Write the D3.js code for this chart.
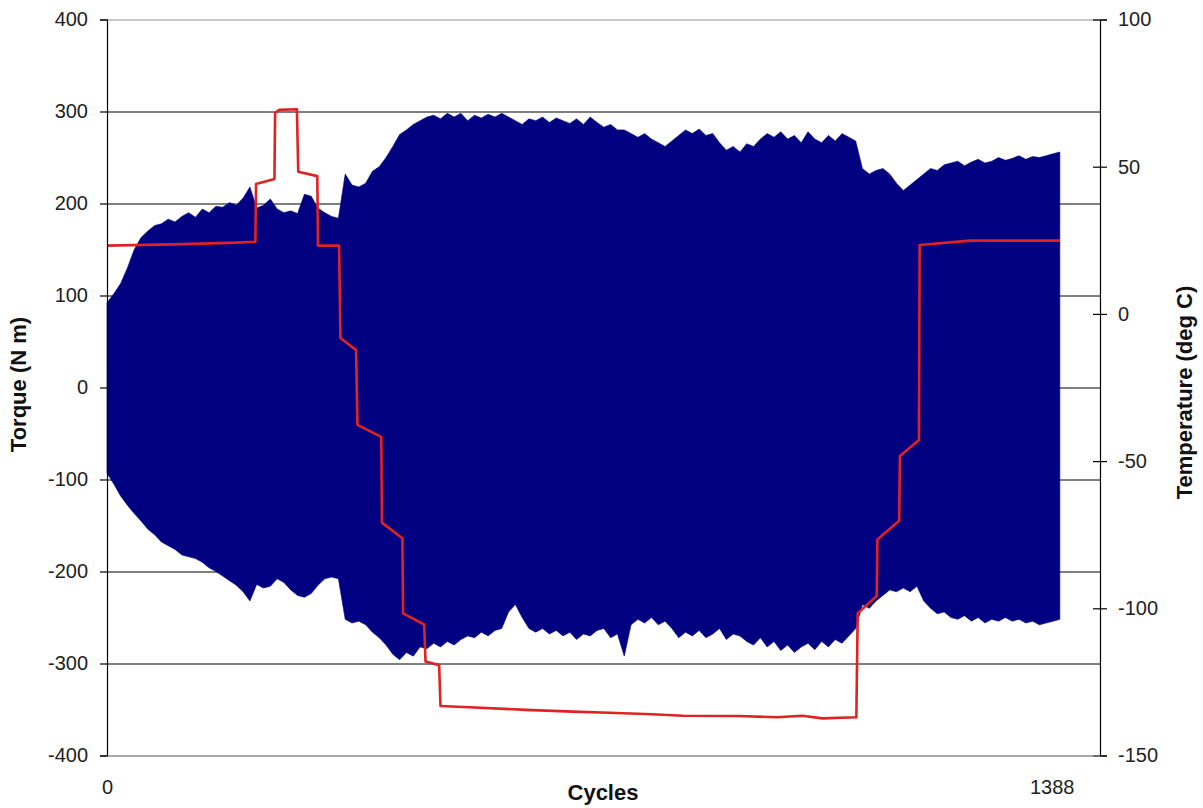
<!DOCTYPE html>
<html>
<head>
<meta charset="utf-8">
<script src="https://cdn.jsdelivr.net/npm/d3@7/dist/d3.min.js"></script>
<style>
  html, body { margin: 0; padding: 0; background: #fff; }
  svg { display: block; font-family: "Liberation Sans", Arial, sans-serif; }
</style>
</head>
<body>
<svg id="chart" width="1203" height="808"></svg>
<script>
// Torque envelope sampled every 10 cycles (peak and trough, N m)
const cycleStep = 10;
const torqueMax = [
  92, 102, 113, 130, 150, 163, 170, 176, 178, 183,
  180, 186, 190, 185, 194, 190, 197, 196, 201, 198,
  206, 218, 195, 198, 205, 194, 190, 192, 189, 210,
  208, 195, 190, 186, 184, 232, 220, 218, 222, 235,
  240, 250, 262, 275, 280, 286, 290, 294, 296, 292,
  298, 294, 298, 290, 296, 293, 297, 294, 298, 294,
  290, 286, 292, 290, 294, 288, 293, 290, 287, 292,
  286, 294, 288, 283, 286, 280, 280, 276, 272, 276,
  270, 266, 262, 268, 274, 280, 276, 281, 274, 276,
  266, 258, 262, 256, 265, 262, 270, 276, 272, 278,
  270, 274, 266, 278, 270, 266, 274, 268, 276, 272,
  268, 238, 232, 236, 238, 232, 222, 214, 220, 226,
  232, 238, 236, 242, 244, 246, 241, 245, 248, 244,
  246, 250, 247, 249, 252, 248, 251, 250, 252, 254,
  256
];
const torqueMin = [
  -93, -105, -118, -128, -137, -145, -154, -160, -168, -172,
  -176, -182, -184, -186, -190, -196, -200, -205, -210, -215,
  -222, -232, -214, -218, -216, -208, -212, -220, -226, -228,
  -224, -215, -208, -206, -208, -252, -256, -254, -258, -266,
  -272, -280, -290, -296, -288, -292, -282, -284, -278, -282,
  -276, -280, -274, -270, -272, -266, -270, -264, -262, -244,
  -236, -250, -262, -266, -262, -268, -264, -270, -266, -274,
  -268, -270, -264, -262, -272, -268, -292, -258, -252, -256,
  -250, -258, -254, -262, -272, -266, -270, -264, -272, -268,
  -262, -274, -268, -270, -276, -280, -272, -282, -276, -286,
  -280, -288, -282, -278, -285, -276, -282, -274, -278, -270,
  -262, -236, -240, -232, -226, -220, -222, -218, -222, -216,
  -232, -240, -246, -244, -250, -252, -248, -254, -250, -256,
  -252, -254, -250, -254, -252, -256, -254, -258, -256, -254,
  -252
];

// Chamber temperature (deg C) against cycle count
const tempCycles = [
  0, 113, 190, 218, 219, 246, 247, 253, 279, 281,
  309, 310, 341, 343, 366, 368, 403, 404, 434, 435,
  466, 468, 488, 490, 532, 616, 684, 738, 801, 846,
  929, 984, 1022, 1051, 1101, 1103, 1131, 1132, 1164, 1165,
  1193, 1194, 1268, 1400
];
const tempValues = [
  23.2, 23.7, 24.2, 24.5, 44.1, 45.8, 68.3, 69.3, 69.5, 48.3,
  46.8, 23.2, 23.2, -8.2, -12.3, -37.7, -41.8, -70.9, -76.2, -101.7,
  -105.5, -118.1, -119.3, -133.2, -133.6, -134.5, -135.1, -135.5, -136.0, -136.5,
  -136.6, -137.0, -136.5, -137.4, -137.0, -101.7, -95.8, -76.6, -70.3, -48.3,
  -42.8, 23.4, 24.9, 24.9
];

const torqueTicks = [400, 300, 200, 100, 0, -100, -200, -300, -400];
const tempTicks = [100, 50, 0, -50, -100, -150];
const cycleTicks = [0, 1388];

const svg = d3.select("#chart");
const plotLeft = 107, plotRight = 1100, plotTop = 19.5, plotBottom = 755.5;
const plain = d => String(d);   // ASCII hyphen for negatives

const x = d3.scaleLinear().domain([0, 1459]).range([plotLeft, plotRight]);
const yL = d3.scaleLinear().domain([-400, 400]).range([plotBottom, plotTop]);
const yR = d3.scaleLinear().domain([-150, 100]).range([plotBottom, plotTop]);

// Horizontal gridlines
const grid = svg.append("g").attr("transform", `translate(${plotLeft},0)`)
  .call(d3.axisLeft(yL).tickValues(torqueTicks).tickSize(-(plotRight - plotLeft)).tickFormat(""));
grid.select(".domain").remove();
grid.selectAll(".tick line")
  .attr("stroke", d => (d === 400 || d === -400) ? "#8c8c8c" : "#000")
  .attr("stroke-width", 1);

// Torque trace
const torqueData = torqueMax.map((v, i) => ({ c: i * cycleStep, hi: v, lo: torqueMin[i] }));
svg.append("path")
  .datum(torqueData)
  .attr("fill", "#000080")
  .attr("stroke", "#000080")
  .attr("stroke-width", 0.6)
  .attr("d", d3.area().x(d => x(d.c)).y0(d => yL(d.lo)).y1(d => yL(d.hi)));

// Temperature trace
const tempData = tempCycles.map((c, i) => ({ c, t: tempValues[i] }));
svg.append("path")
  .datum(tempData)
  .attr("fill", "none")
  .attr("stroke", "#e02222")
  .attr("stroke-width", 2.6)
  .attr("stroke-linejoin", "round")
  .attr("d", d3.line().x(d => x(d.c)).y(d => yR(d.t)));

// Left axis
const axL = svg.append("g").attr("transform", `translate(${plotLeft},0)`)
  .call(d3.axisLeft(yL).tickValues(torqueTicks).tickFormat(plain).tickSize(7).tickPadding(12));
// Right axis
const axR = svg.append("g").attr("transform", `translate(${plotRight},0)`)
  .call(d3.axisRight(yR).tickValues(tempTicks).tickFormat(plain).tickSize(7).tickPadding(11));
axR.selectAll(".tick line").attr("x1", -7);
// Bottom axis
const axB = svg.append("g").attr("transform", `translate(0,${plotBottom})`)
  .call(d3.axisBottom(x).tickValues(cycleTicks).tickFormat(plain).tickSize(0).tickPadding(24));
axB.select(".domain").attr("stroke", "#8c8c8c");

[axL, axR].forEach(a => {
  a.select(".domain").attr("stroke", "#000").attr("stroke-width", 1.2);
  a.selectAll(".tick line").attr("stroke", "#000").attr("stroke-width", 1.2);
});
[axL, axR, axB].forEach(a => {
  a.selectAll(".tick text")
    .attr("fill", "#222")
    .style("font-size", "20px")
    .style("font-family", "'Liberation Sans', Arial, sans-serif");
});

// Axis titles
svg.append("text")
  .attr("transform", `translate(26,${(plotTop + plotBottom) / 2 - 3}) rotate(-90)`)
  .attr("text-anchor", "middle")
  .style("font-weight", "bold").style("font-size", "22px").attr("fill", "#111")
  .text("Torque (N m)");
svg.append("text")
  .attr("transform", `translate(1192,${(plotTop + plotBottom) / 2 + 5}) rotate(-90)`)
  .attr("text-anchor", "middle")
  .style("font-weight", "bold").style("font-size", "22px").attr("fill", "#111")
  .text("Temperature (deg C)");
svg.append("text")
  .attr("x", 603).attr("y", 800)
  .attr("text-anchor", "middle")
  .style("font-weight", "bold").style("font-size", "22px").attr("fill", "#111")
  .text("Cycles");
</script>
</body>
</html>
